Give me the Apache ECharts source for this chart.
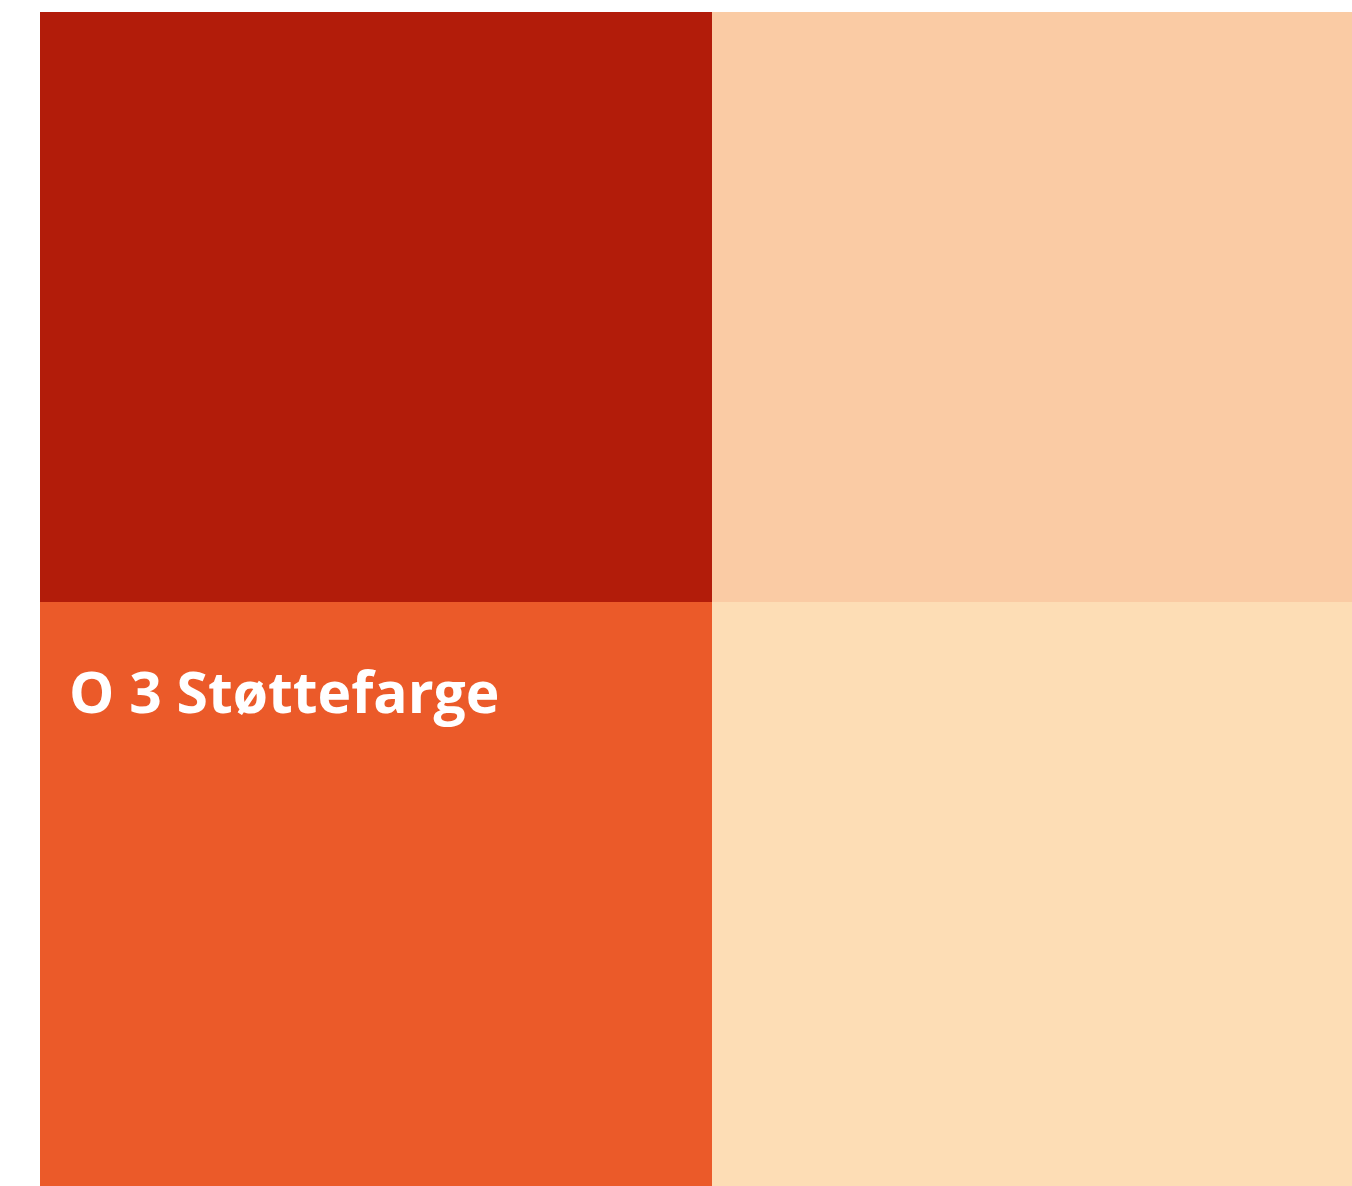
<!DOCTYPE html>
<html>
<head>
<meta charset="utf-8">
<script src="https://cdn.jsdelivr.net/npm/echarts@6/dist/echarts.min.js"></script>
<style>
  html, body { margin: 0; padding: 0; background: #fff; }
  #chart { width: 1352px; height: 1186px; }
</style>
</head>
<body>
<div id="chart"></div>
<script>
// column / row boundaries (share of the plot)
const xEdges = [0, 0.512, 1];
const yEdges = [0, 0.5025, 1];
// cells: [col, row] with row 0 at top
const cells = [[0, 0], [1, 0], [0, 1], [1, 1]];
const cellColors = ['#B21C0A', '#FACBA4', '#EB5A29', '#FDDDB5'];
const cellLabels = ['', '', 'O 3 Støttefarge', ''];

const chart = echarts.init(document.getElementById('chart'));

chart.setOption({
  animation: false,
  grid: { left: 40, top: 12, right: 0, bottom: 0 },
  xAxis: { type: 'value', min: 0, max: 1, show: false },
  yAxis: { type: 'value', min: 0, max: 1, inverse: true, show: false },
  series: [{
    type: 'custom',
    data: cells.map((c, i) => [xEdges[c[0]], xEdges[c[0] + 1], yEdges[c[1]], yEdges[c[1] + 1], i]),
    renderItem: function (params, api) {
      const i = api.value(4);
      const p0 = api.coord([api.value(0), api.value(2)]).map(Math.round);
      const p1 = api.coord([api.value(1), api.value(3)]).map(Math.round);
      const children = [{
        type: 'rect',
        shape: { x: p0[0], y: p0[1], width: p1[0] - p0[0], height: p1[1] - p0[1] },
        style: { fill: cellColors[i] }
      }];
      if (cellLabels[i]) {
        children.push({
          type: 'text',
          x: p0[0] + 29,
          y: p0[1] + 66,
          style: {
            text: cellLabels[i],
            fill: '#fff',
            font: 'bold 57px "Open Sans"',
            textVerticalAlign: 'top'
          }
        });
      }
      return { type: 'group', children: children };
    }
  }]
});
</script>
</body>
</html>
